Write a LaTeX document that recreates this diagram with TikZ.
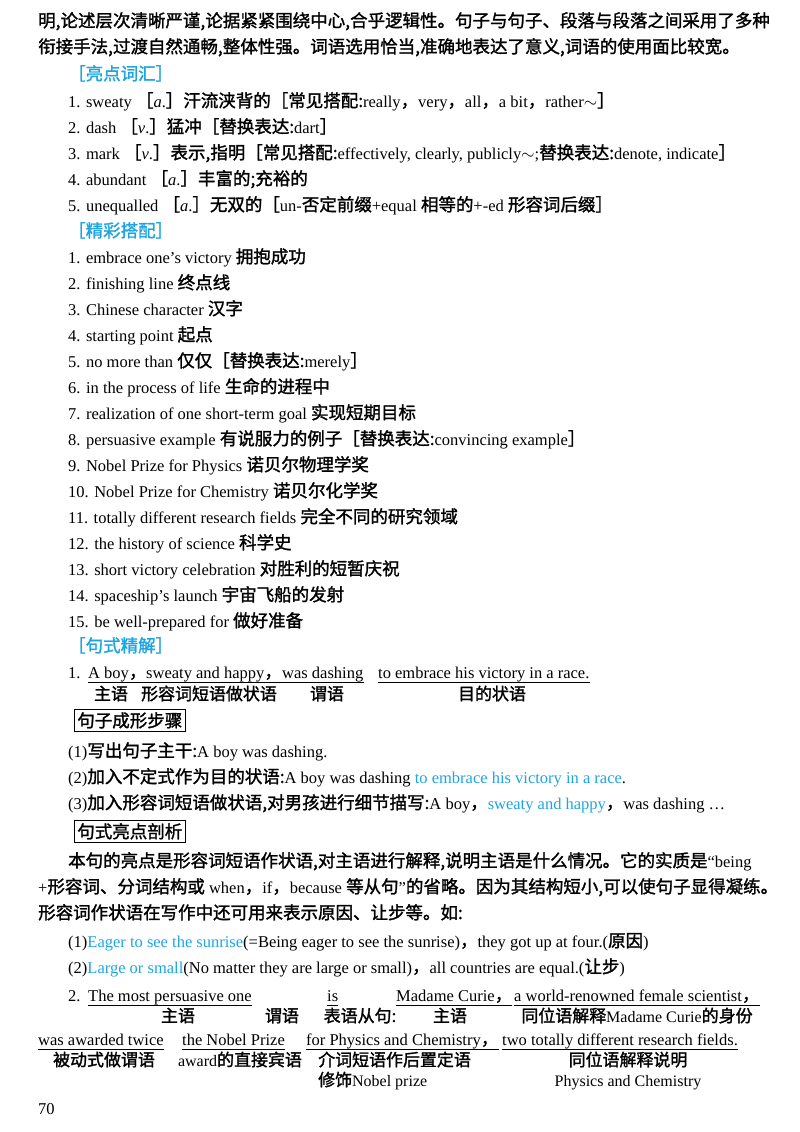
\documentclass[tikz,border=0pt]{standalone}
\usepackage{fontspec}
\setmainfont{Liberation Serif}
\newfontfamily\cjk{Noto Sans CJK SC}[FakeBold=1.5,Scale=1.06]
\newcommand\zh[1]{{\cjk #1}}
\newcommand\lb{{\cjk［}}
\newcommand\rb{{\cjk］}}
\newcommand\cm{{\cjk，}}
\definecolor{hl}{RGB}{30,165,225}
\begin{document}
\begin{tikzpicture}[x=1pt,y=-1pt,
  t/.style={anchor=base west,inner sep=0pt,font=\fontsize{16.5}{18}\selectfont},
  h/.style={t,text=hl},
  lab/.style={anchor=base,inner sep=0pt,font=\fontsize{16}{18}\selectfont},
  ul/.style={line width=0.6pt},
  bx/.style={t,draw,line width=0.7pt,inner sep=3pt}]
\useasboundingbox (0,0) rectangle (800,1132);
\node[t] (l1) at (38,27) {\zh{明,论述层次清晰严谨,论据紧紧围绕中心,合乎逻辑性。句子与句子、段落与段落之间采用了多种}};
\node[t] (l2) at (38,53) {\zh{衔接手法,过渡自然通畅,整体性强。词语选用恰当,准确地表达了意义,词语的使用面比较宽。}};
\node[h] (hd1) at (68,80) {\zh{［亮点词汇］}};
\node[t] (a1) at (68,107) {1. sweaty \lb\textit{a}.\rb\zh{汗流浃背的}\lb\zh{常见搭配:}really\cm very\cm all\cm a bit\cm rather$\sim$\rb};
\node[t] (a2) at (68,133) {2. dash \lb\textit{v}.\rb\zh{猛冲}\lb\zh{替换表达:}dart\rb};
\node[t] (a3) at (68,159) {3. mark \lb\textit{v}.\rb\zh{表示,指明}\lb\zh{常见搭配:}effectively, clearly, publicly$\sim$;\zh{替换表达:}denote, indicate\rb};
\node[t] (a4) at (68,185) {4. abundant \lb\textit{a}.\rb\zh{丰富的;充裕的}};
\node[t] (a5) at (68,211) {5. unequalled \lb\textit{a}.\rb\zh{无双的}\lb un-\zh{否定前缀}+equal \zh{相等的}+-ed \zh{形容词后缀}\rb};
\node[h] (hd2) at (68,237) {\zh{［精彩搭配］}};
\node[t] (b1) at (68,263) {1. embrace one's victory \zh{拥抱成功}};
\node[t] (b2) at (68,289) {2. finishing line \zh{终点线}};
\node[t] (b3) at (68,315) {3. Chinese character \zh{汉字}};
\node[t] (b4) at (68,341) {4. starting point \zh{起点}};
\node[t] (b5) at (68,367) {5. no more than \zh{仅仅}\lb\zh{替换表达:}merely\rb};
\node[t] (b6) at (68,393) {6. in the process of life \zh{生命的进程中}};
\node[t] (b7) at (68,419) {7. realization of one short-term goal \zh{实现短期目标}};
\node[t] (b8) at (68,445) {8. persuasive example \zh{有说服力的例子}\lb\zh{替换表达:}convincing example\rb};
\node[t] (b9) at (68,471) {9. Nobel Prize for Physics \zh{诺贝尔物理学奖}};
\node[t] (b10) at (68,497) {10. Nobel Prize for Chemistry \zh{诺贝尔化学奖}};
\node[t] (b11) at (68,523) {11. totally different research fields \zh{完全不同的研究领域}};
\node[t] (b12) at (68,549) {12. the history of science \zh{科学史}};
\node[t] (b13) at (68,575) {13. short victory celebration \zh{对胜利的短暂庆祝}};
\node[t] (b14) at (68,601) {14. spaceship's launch \zh{宇宙飞船的发射}};
\node[t] (b15) at (68,627) {15. be well-prepared for \zh{做好准备}};
\node[h] (hd3) at (68,652) {\zh{［句式精解］}};
% sentence 1
\node[t] (s0) at (68,678) {1.};
\node[t] (s1) at (88,678) {A boy\cm};
\node[t] (s2) at (146,678) {sweaty and happy\cm};
\node[t] (s3) at (282,678) {was dashing};
\node[t] (s4) at (378,678) {to embrace his victory in a race.};
\foreach \n in {s1,s2,s3,s4}
  \draw[ul] ([yshift=-4pt]\n.base west) -- ([yshift=-4pt]\n.base east);
\node[lab] (p1) at (111,700) {\zh{主语}};
\node[lab] (p2) at (209,700) {\zh{形容词短语做状语}};
\node[lab] (p3) at (327,700) {\zh{谓语}};
\node[lab] (p4) at (492,700) {\zh{目的状语}};
\node[bx] (box1) at (74,727) {\zh{句子成形步骤}};
\node[t] (c1) at (68,757) {(1)\zh{写出句子主干:}A boy was dashing.};
\node[t] (c2) at (68,783) {(2)\zh{加入不定式作为目的状语:}A boy was dashing \textcolor{hl}{to embrace his victory in a race}.};
\node[t] (c3) at (68,809) {(3)\zh{加入形容词短语做状语,对男孩进行细节描写:}A boy\cm\textcolor{hl}{sweaty and happy}\cm was dashing \dots};
\node[bx] (box2) at (74,838) {\zh{句式亮点剖析}};
\node[t] (d1) at (68,867) {\zh{本句的亮点是形容词短语作状语,对主语进行解释,说明主语是什么情况。它的实质是}``being};
\node[t] (d2) at (38,893) {+\zh{形容词、分词结构或} when\cm if\cm because \zh{等从句}''\zh{的省略。因为其结构短小,可以使句子显得凝练。}};
\node[t] (d3) at (38,919) {\zh{形容词作状语在写作中还可用来表示原因、让步等。如:}};
\node[t] (e1) at (68,947) {(1)\textcolor{hl}{Eager to see the sunrise}(=Being eager to see the sunrise)\cm they got up at four.(\zh{原因})};
\node[t] (e2) at (68,973) {(2)\textcolor{hl}{Large or small}(No matter they are large or small)\cm all countries are equal.(\zh{让步})};
% sentence 2
\node[t] (f0) at (68,1001) {2.};
\node[t] (f1) at (88,1001) {The most persuasive one};
\node[t] (f2) at (327,1001) {is};
\node[t] (f3) at (396,1001) {Madame Curie\cm};
\node[t] (f4) at (514,1001) {a world-renowned female scientist\cm};
\foreach \n in {f1,f2,f3,f4}
  \draw[ul] ([yshift=-4pt]\n.base west) -- ([yshift=-4pt]\n.base east);
\node[lab] (g1) at (178,1022) {\zh{主语}};
\node[lab] (g2) at (282,1022) {\zh{谓语}};
\node[lab] (g3) at (360,1022) {\zh{表语从句:}};
\node[lab] (g4) at (450,1022) {\zh{主语}};
\node[lab] (g5) at (637,1022) {\zh{同位语解释}Madame Curie\zh{的身份}};
\node[t] (k1) at (38,1045) {was awarded twice};
\node[t] (k2) at (182,1045) {the Nobel Prize};
\node[t] (k3) at (306,1045) {for Physics and Chemistry\cm};
\node[t] (k4) at (502,1045) {two totally different research fields.};
\foreach \n in {k1,k2,k3,k4}
  \draw[ul] ([yshift=-4pt]\n.base west) -- ([yshift=-4pt]\n.base east);
\node[lab] (m1) at (104,1066) {\zh{被动式做谓语}};
\node[lab] (m2) at (240,1066) {award\zh{的直接宾语}};
\node[t,font=\fontsize{16}{18}\selectfont] (m3) at (318,1066) {\zh{介词短语作后置定语}};
\node[t,font=\fontsize{16}{18}\selectfont] (m4) at (318,1086) {\zh{修饰}Nobel prize};
\node[lab] (m5) at (628,1066) {\zh{同位语解释说明}};
\node[lab] (m6) at (628,1086) {Physics and Chemistry};
\node[t] (pg) at (38,1114) {70};
\end{tikzpicture}
\end{document}
